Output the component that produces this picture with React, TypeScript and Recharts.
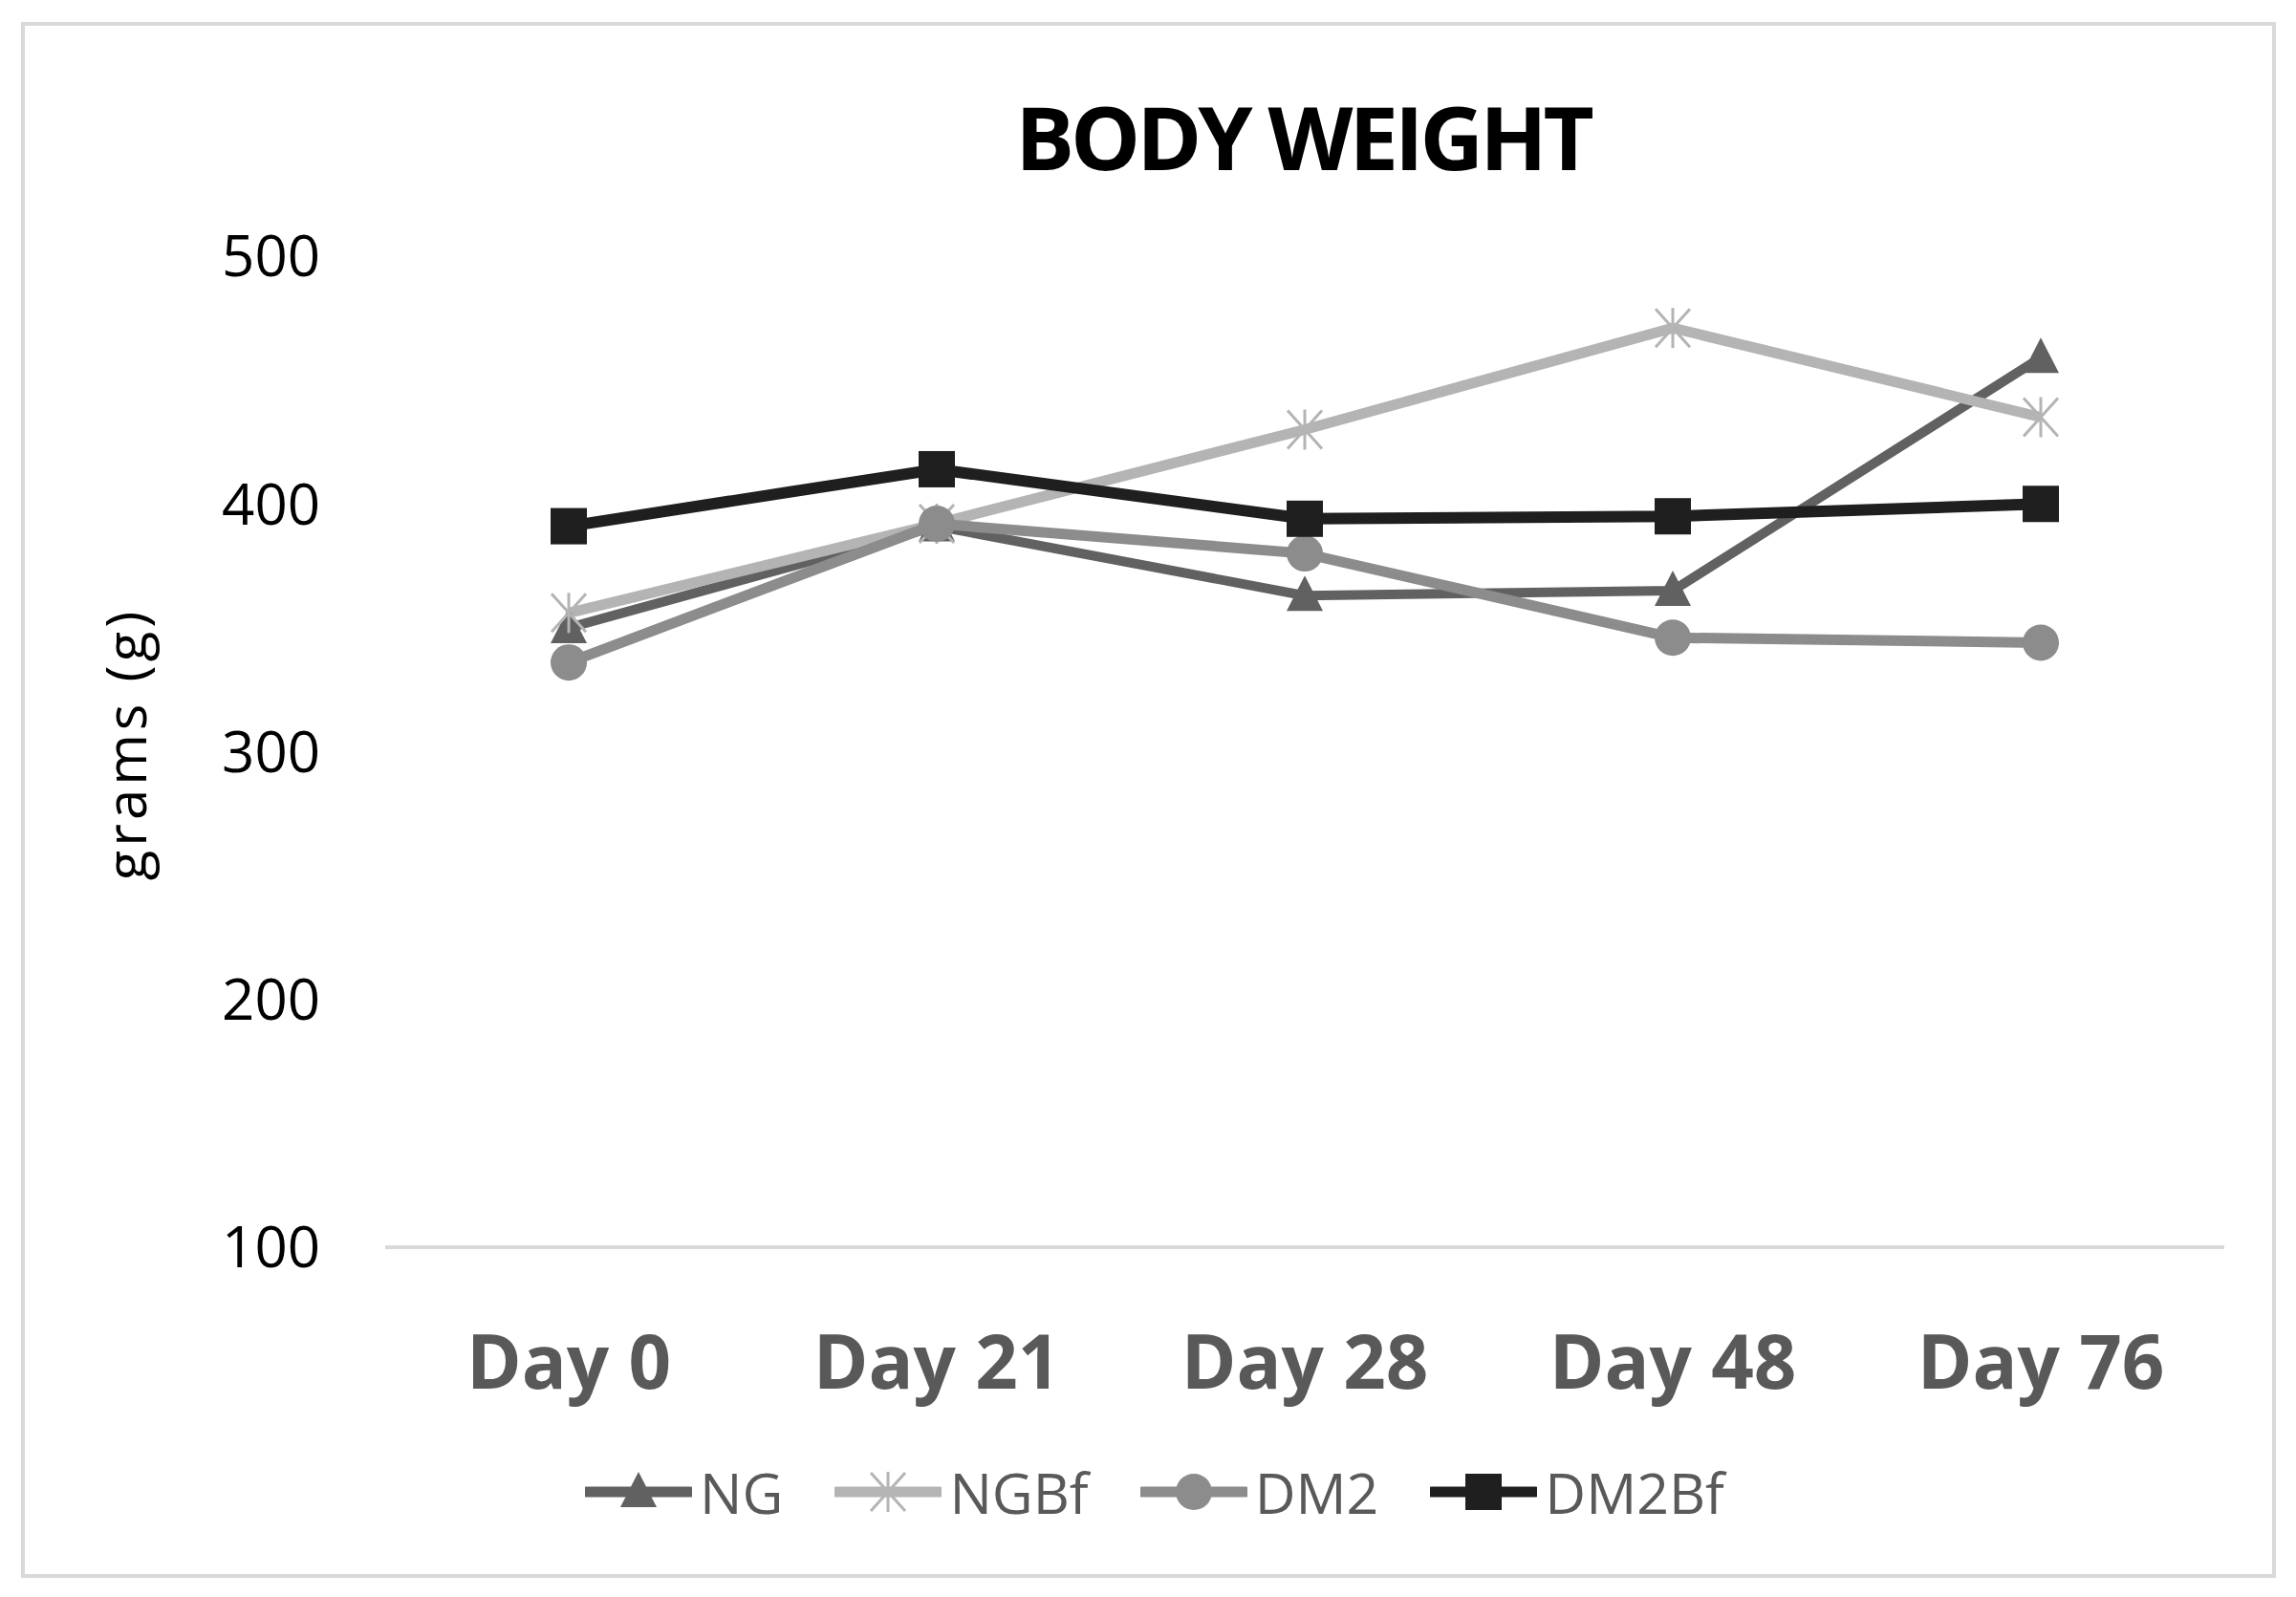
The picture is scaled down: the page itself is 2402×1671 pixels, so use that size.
import React from 'react';
import { LineChart, Line, XAxis, YAxis, Legend, Label } from 'recharts';

// Values (grams)
const days = ['Day 0', 'Day 21', 'Day 28', 'Day 48', 'Day 76'];
const ng = [350, 391, 363, 365, 459];
const ngbf = [356, 392, 430, 471, 435];
const dm2 = [336, 392, 380, 346, 344];
const dm2bf = [391, 414, 394, 395, 400];
const yTicks = [100, 200, 300, 400, 500];

const data = days.map((day, i) => ({
  day,
  NG: ng[i],
  NGBf: ngbf[i],
  DM2: dm2[i],
  DM2Bf: dm2bf[i],
}));

const FONT = '"Open Sans", "Noto Sans", sans-serif';

const SERIES = [
  { key: 'NG', color: '#616161', width: 10, marker: 'triangle' },
  { key: 'NGBf', color: '#b4b4b4', width: 11, marker: 'star' },
  { key: 'DM2', color: '#8c8c8c', width: 11, marker: 'circle' },
  { key: 'DM2Bf', color: '#1f1f1f', width: 12, marker: 'square' },
];

// half of a category slot, so points sit in the middle of each slot like Excel
const SLOT_PAD = 192;

// draws one marker shape centred on cx, cy
function Marker({ cx, cy, shape, color }: any) {
  if (cx == null || cy == null) return null;
  switch (shape) {
    case 'triangle':
      return (
        <polygon
          points={`${cx},${cy - 21} ${cx - 19},${cy + 16} ${cx + 19},${cy + 16}`}
          fill={color}
        />
      );
    case 'star':
      return (
        <g stroke={color} strokeWidth={3} fill="none">
          <line x1={cx} y1={cy - 21} x2={cx} y2={cy + 21} />
          <line x1={cx - 18} y1={cy - 20} x2={cx + 18} y2={cy + 20} />
          <line x1={cx - 18} y1={cy + 20} x2={cx + 18} y2={cy - 20} />
        </g>
      );
    case 'circle':
      return <circle cx={cx} cy={cy} r={19} fill={color} />;
    case 'square':
      return <rect x={cx - 19} y={cy - 19} width={38} height={38} fill={color} />;
    default:
      return null;
  }
}

const makeDot = (shape: string, color: string) => (props: any) => (
  <Marker key={`${shape}-${props.index}`} cx={props.cx} cy={props.cy} shape={shape} color={color} />
);

const CustomLegend = () => (
  <div
    style={{
      width: 2402,
      height: 80,
      display: 'flex',
      justifyContent: 'center',
      alignItems: 'center',
      paddingLeft: 14,
      boxSizing: 'border-box',
      fontFamily: FONT,
    }}
  >
    {SERIES.map((s, i) => (
      <div
        key={s.key}
        style={{ display: 'flex', alignItems: 'center', marginLeft: i === 0 ? 0 : 54 }}
      >
        <svg width={112} height={80}>
          <line x1={2} y1={40} x2={110} y2={40} stroke={s.color} strokeWidth={11} strokeLinecap="round" />
          <Marker cx={56} cy={40} shape={s.marker} color={s.color} />
        </svg>
        <span style={{ fontSize: 59, color: '#595959', marginLeft: 8, lineHeight: '80px' }}>
          {s.key}
        </span>
      </div>
    ))}
  </div>
);

const YLabel = (props: any) => {
  const vb = props.viewBox || { x: 0, y: 0, width: 0, height: 0 };
  const x = vb.x + 130;
  const y = vb.y + vb.height / 2 - 8;
  return (
    <text
      x={x}
      y={y}
      transform={`rotate(-90, ${x}, ${y})`}
      textAnchor="middle"
      dominantBaseline="central"
      fontFamily={FONT}
      fontSize={58}
      letterSpacing={4}
      fill="#000"
    >
      grams (g)
    </text>
  );
};

export default function App() {
  return (
    <div style={{ position: 'absolute', left: 0, top: 0, width: 2402, height: 1671, background: '#fff' }}>
      <div
        style={{
          position: 'absolute',
          left: 22,
          top: 23,
          width: 2359,
          height: 1628,
          border: '4px solid #d9d9d9',
          boxSizing: 'border-box',
        }}
      />
      <div
        style={{
          position: 'absolute',
          left: 1363 - 500,
          width: 1000,
          top: 78,
          textAlign: 'center',
          fontFamily: FONT,
          fontWeight: 700,
          fontSize: 92,
          letterSpacing: -4,
          lineHeight: '130px',
          color: '#000',
        }}
      >
        BODY WEIGHT
      </div>
      <div style={{ position: 'absolute', left: 0, top: 0 }}>
        <LineChart
          width={2402}
          height={1671}
          data={data}
          margin={{ top: 268, right: 75, bottom: 70, left: 0 }}
        >
          <XAxis
            dataKey="day"
            height={216}
            padding={{ left: SLOT_PAD, right: SLOT_PAD }}
            tickSize={0}
            tickMargin={93}
            axisLine={{ stroke: '#d9d9d9', strokeWidth: 4 }}
            tickLine={false}
            interval={0}
            tick={{ fontFamily: FONT, fontSize: 78, fontWeight: 700, fill: '#595959' }}
          />
          <YAxis
            width={403}
            domain={[100, 500]}
            ticks={yTicks}
            interval={0}
            tickSize={0}
            tickMargin={68}
            axisLine={false}
            tickLine={false}
            tick={{ fontFamily: FONT, fontSize: 60, fill: '#000' }}
          >
            <Label content={YLabel} />
          </YAxis>
          <Legend
            verticalAlign="bottom"
            width={2402}
            wrapperStyle={{ left: 0 }}
            content={CustomLegend}
          />
          {SERIES.map((s) => (
            <Line
              key={s.key}
              dataKey={s.key}
              stroke={s.color}
              strokeWidth={s.width}
              type="linear"
              dot={makeDot(s.marker, s.color)}
              activeDot={false}
              isAnimationActive={false}
            />
          ))}
        </LineChart>
      </div>
    </div>
  );
}
